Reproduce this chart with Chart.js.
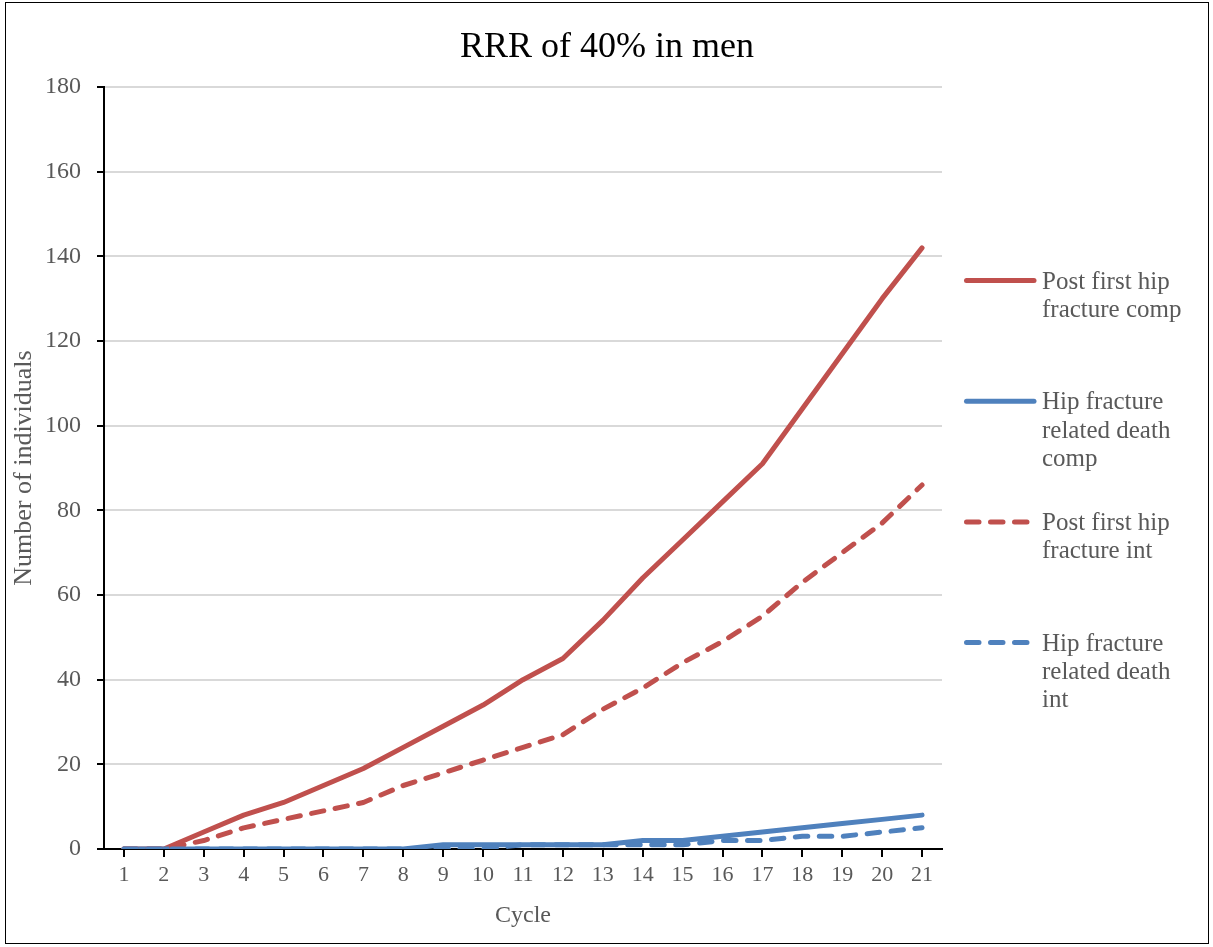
<!DOCTYPE html>
<html>
<head>
<meta charset="utf-8">
<script src="https://cdn.jsdelivr.net/npm/chart.js@4.4.1/dist/chart.umd.min.js"></script>
<style>
  html, body { margin: 0; padding: 0; background: #fff; }
  #wrap { width: 1213px; height: 947px; position: relative; }
</style>
</head>
<body>
<div id="wrap"><canvas id="chart"></canvas></div>
<script>
// chart data
const cycles = ['1','2','3','4','5','6','7','8','9','10','11','12','13','14','15','16','17','18','19','20','21'];
const postFirstComp = [0, 0, 4, 8, 11, 15, 19, 24, 29, 34, 40, 45, 54, 64, 73, 82, 91, 104, 117, 130, 142];
const deathComp     = [0, 0, 0, 0, 0, 0, 0, 0, 1, 1, 1, 1, 1, 2, 2, 3, 4, 5, 6, 7, 8];
const postFirstInt  = [0, 0, 2, 5, 7, 9, 11, 15, 18, 21, 24, 27, 33, 38, 44, 49, 55, 63, 70, 77, 86];
const deathInt      = [0, 0, 0, 0, 0, 0, 0, 0, 0, 0, 1, 1, 1, 1, 1, 2, 2, 3, 3, 4, 5];
const yTicks = [0, 20, 40, 60, 80, 100, 120, 140, 160, 180];
const legendLines = [
  ['Post first hip', 'fracture comp'],
  ['Hip fracture', 'related death', 'comp'],
  ['Post first hip', 'fracture int'],
  ['Hip fracture', 'related death', 'int']
];
const chartTitle = 'RRR of 40% in men';

const RED = '#C0504D';
const BLUE = '#4F81BD';
const FONT = '"Liberation Serif", "DejaVu Serif", serif';
const GREY = '#595959';

// white background, frame and title (title is centred on the whole picture)
const framePlugin = {
  id: 'frame',
  beforeDraw(chart) {
    const ctx = chart.ctx;
    ctx.save();
    ctx.fillStyle = '#fff';
    ctx.fillRect(0, 0, chart.width, chart.height);
    ctx.strokeStyle = '#000';
    ctx.lineWidth = 1;
    ctx.strokeRect(5.5, 2.5, 1203, 941);
    ctx.fillStyle = '#000';
    ctx.font = '36px ' + FONT;
    ctx.textAlign = 'center';
    ctx.textBaseline = 'alphabetic';
    ctx.fillText(chartTitle, 607, 57);
    ctx.restore();
  }
};

// legend on the right with wrapped labels
const sideLegend = {
  id: 'sideLegend',
  afterDraw(chart) {
    const ctx = chart.ctx;
    ctx.save();
    ctx.font = '25px ' + FONT;
    ctx.textBaseline = 'alphabetic';
    chart.data.datasets.forEach((ds, i) => {
      const y = 280.5 + i * 120.7;
      ctx.strokeStyle = ds.borderColor;
      ctx.lineWidth = 5;
      ctx.lineCap = 'round';
      ctx.setLineDash(ds.borderDash || []);
      ctx.beginPath();
      ctx.moveTo(966.5, y);
      ctx.lineTo(1034, y);
      ctx.stroke();
      ctx.setLineDash([]);
      ctx.fillStyle = GREY;
      legendLines[i].forEach((t, j) => ctx.fillText(t, 1042, y + 8 + j * 28.3));
    });
    ctx.restore();
  }
};

function series(label, data, color, dashed, order) {
  return {
    label: label,
    data: data,
    borderColor: color,
    backgroundColor: color,
    borderWidth: 5,
    borderDash: dashed ? [12.5, 11.5] : [],
    borderCapStyle: 'round',
    borderJoinStyle: 'round',
    pointRadius: 0,
    tension: 0,
    fill: false,
    order: order
  };
}

new Chart(document.getElementById('chart'), {
  type: 'line',
  data: {
    labels: cycles,
    datasets: [
      series(legendLines[0].join(' '), postFirstComp, RED, false, 4),
      series(legendLines[1].join(' '), deathComp, BLUE, false, 3),
      series(legendLines[2].join(' '), postFirstInt, RED, true, 2),
      series(legendLines[3].join(' '), deathInt, BLUE, true, 1)
    ]
  },
  options: {
    responsive: true,
    maintainAspectRatio: false,
    animation: false,
    layout: { padding: { left: 0, right: 271, top: 87, bottom: 0 } },
    plugins: {
      legend: { display: false },
      tooltip: { enabled: false },
      title: { display: false }
    },
    scales: {
      x: {
        offset: true,
        grid: { display: true, drawOnChartArea: false, drawTicks: true, tickLength: 8, offset: false, color: '#000', lineWidth: 2 },
        border: { color: '#000', width: 2 },
        ticks: { color: GREY, font: { family: FONT, size: 22 }, padding: 5, maxRotation: 0, autoSkip: false },
        title: { display: true, text: 'Cycle', color: GREY, font: { family: FONT, size: 24 }, padding: { top: 0, bottom: 17 } },
        afterFit(scale) { scale.height = 98; }
      },
      y: {
        min: 0,
        max: 180,
        afterBuildTicks(scale) { scale.ticks = yTicks.map(v => ({ value: v })); },
        grid: { color: '#D9D9D9', lineWidth: 2, drawTicks: true, tickLength: 7, tickColor: '#000' },
        border: { color: '#000', width: 2 },
        ticks: { color: GREY, font: { family: FONT, size: 24 }, padding: 16 },
        title: { display: true, text: 'Number of individuals', color: GREY, font: { family: FONT, size: 26 }, padding: { top: 9, bottom: 0 } },
        afterFit(scale) { scale.width = 104; }
      }
    }
  },
  plugins: [framePlugin, sideLegend]
});
</script>
</body>
</html>
